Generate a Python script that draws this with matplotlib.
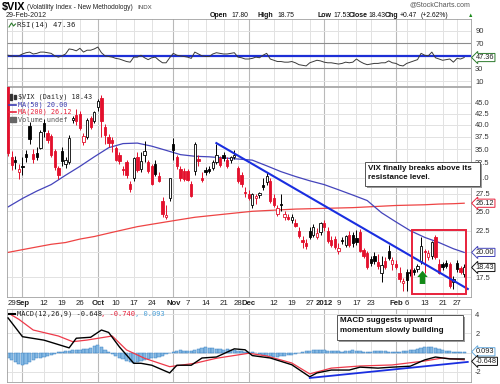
import numpy as np
import pandas as pd
import matplotlib
matplotlib.use("Agg")
import matplotlib.pyplot as plt
from matplotlib.patches import Rectangle
from matplotlib.lines import Line2D

SANS = ['Liberation Sans', 'DejaVu Sans']
MONO = ['DejaVu Sans Mono', 'Liberation Mono', 'DejaVu Sans']
plt.rcParams['font.family'] = SANS

# ---------------- data ----------------
holidays = ["2011-09-05", "2011-11-24", "2011-12-26", "2012-01-02", "2012-01-16", "2012-02-20"]
dates = [d for d in pd.bdate_range("2011-08-26", "2012-02-29") if d.strftime("%Y-%m-%d") not in holidays]

opens = [49.5, 33.6, 33.0, 30.9, 32.0, 34.2, 39.8, 34.2, 34.3, 35.3,
         40.3, 38.3, 37.6, 34.6, 31.7, 34.7, 32.3, 32.6, 41.0, 42.1,
         42.5, 36.4, 37.4, 41.5, 40.7, 44.0, 46.2, 39.6, 37.5, 36.8,
         35.3, 34.0, 31.5, 32.6, 29.0, 29.9, 33.5, 31.5, 34.0, 32.6,
         32.0, 32.4, 30.3, 26.5, 24.3, 26.8, 36.0, 33.5, 31.5, 31.1,
         31.1, 29.0, 31.1, 33.2, 30.0, 31.3, 31.4, 31.7, 32.6, 33.3,
         34.0, 33.0, 33.0, 33.5, 31.7, 30.5, 27.8, 27.4, 25.8, 26.8,
         27.3, 28.8, 29.3, 29.5, 26.9, 24.7, 26.0, 24.2, 24.3, 23.8,
         23.5, 22.5, 21.4, 21.0, 22.5, 22.0, 21.8, 22.3, 23.4, 22.5,
         21.4, 21.5, 20.1, 21.35, 20.8, 22.0, 22.0, 21.6, 22.4, 20.3,
         19.9, 19.3, 19.6, 19.0, 17.9, 19.1, 20.1, 18.8, 18.8, 17.9,
         16.9, 18.0, 18.0, 18.2, 18.3, 19.1, 20.1, 19.5, 19.6, 21.8,
         18.8, 18.8, 18.9, 18.8, 17.0, 18.9, 18.4, 17.80]
highs = [50.0, 34.7, 33.8, 32.3, 33.5, 34.8, 40.5, 35.0, 35.5, 38.8,
         41.2, 38.8, 38.0, 35.0, 32.0, 35.4, 33.6, 37.8, 42.0, 43.5,
         43.0, 38.2, 41.5, 42.0, 43.2, 46.0, 47.0, 40.2, 38.0, 37.5,
         35.6, 34.5, 32.0, 33.0, 29.5, 33.6, 34.5, 34.5, 36.7, 33.0,
         32.3, 33.0, 31.0, 27.0, 25.8, 30.0, 37.3, 34.0, 32.0, 31.6,
         31.5, 29.5, 36.5, 34.0, 31.0, 31.8, 32.0, 33.0, 36.0, 33.8,
         34.5, 33.5, 33.8, 34.8, 32.0, 31.0, 28.5, 28.0, 27.6, 27.5,
         27.8, 30.0, 31.0, 30.0, 27.5, 25.8, 27.5, 25.0, 24.6, 24.6,
         24.0, 23.0, 21.9, 21.5, 23.0, 23.3, 22.8, 23.6, 23.8, 23.0,
         21.9, 21.9, 21.0, 21.8, 22.0, 22.5, 22.4, 22.6, 22.7, 20.5,
         20.2, 19.6, 20.0, 19.8, 19.6, 19.5, 20.8, 19.5, 19.2, 18.5,
         17.4, 18.3, 18.3, 18.4, 18.8, 21.8, 20.4, 20.3, 21.3, 22.0,
         19.3, 19.0, 19.2, 19.0, 17.6, 19.2, 18.6, 18.75]
lows = [33.8, 31.2, 31.5, 29.8, 30.5, 32.6, 36.0, 32.5, 33.0, 35.0,
        37.5, 36.2, 33.5, 31.2, 29.8, 32.0, 31.7, 32.3, 40.4, 40.0,
        38.8, 35.8, 37.0, 39.0, 40.3, 43.0, 37.5, 36.0, 35.5, 34.5,
        32.8, 32.4, 30.5, 30.0, 27.8, 29.5, 31.0, 31.0, 32.6, 30.8,
        28.8, 30.3, 29.3, 24.3, 24.0, 26.5, 33.0, 31.5, 29.5, 29.5,
        29.5, 27.0, 30.5, 32.0, 29.3, 30.5, 30.8, 31.3, 32.3, 31.8,
        32.8, 31.6, 32.5, 33.2, 29.2, 28.5, 27.0, 26.6, 25.5, 26.0,
        26.8, 28.0, 28.8, 26.2, 25.6, 24.4, 25.0, 23.8, 23.8, 23.4,
        22.9, 21.6, 20.5, 20.4, 21.5, 21.8, 21.5, 22.0, 22.5, 21.0,
        20.6, 20.4, 19.8, 20.9, 20.6, 20.6, 20.6, 20.8, 20.0, 19.4,
        18.3, 18.6, 18.8, 18.3, 17.0, 18.3, 19.2, 18.2, 18.3, 17.0,
        16.2, 16.2, 17.6, 17.7, 18.0, 18.8, 17.9, 19.2, 19.3, 19.3,
        17.8, 18.2, 18.4, 16.5, 16.4, 18.0, 17.8, 17.53]
closes = [34.3, 32.2, 32.6, 31.4, 31.8, 33.5, 37.0, 33.2, 33.6, 38.4,
          38.6, 36.8, 34.0, 31.8, 30.5, 32.8, 33.0, 37.2, 41.4, 40.8,
          39.3, 37.6, 41.0, 39.6, 42.9, 45.4, 40.8, 37.8, 36.3, 36.2,
          33.0, 32.9, 31.2, 30.4, 28.2, 33.4, 31.3, 32.9, 34.6, 31.1,
          29.0, 30.6, 29.5, 24.6, 24.5, 29.9, 34.8, 32.0, 29.9, 29.8,
          29.7, 27.2, 36.0, 32.9, 29.7, 31.0, 31.1, 32.6, 34.0, 32.1,
          33.3, 32.0, 33.5, 34.0, 29.5, 29.0, 27.6, 26.9, 27.4, 27.2,
          27.6, 28.6, 30.3, 26.4, 25.8, 25.5, 25.9, 24.6, 24.0, 24.3,
          23.1, 21.9, 21.2, 20.7, 21.8, 23.0, 22.2, 23.4, 22.9, 21.3,
          20.8, 20.6, 20.5, 21.3, 21.9, 20.8, 21.0, 21.2, 20.2, 19.6,
          18.5, 18.9, 19.1, 18.6, 18.7, 18.5, 19.4, 19.2, 18.5, 17.3,
          17.1, 17.2, 17.9, 17.95, 18.6, 20.7, 20.0, 19.9, 21.2, 19.5,
          17.9, 18.5, 18.6, 16.7, 17.3, 18.3, 17.96, 18.43]

ma_days = [0, 4, 8, 12, 16, 20, 24, 28, 32, 36, 40, 44, 48, 52, 56, 60, 64, 68, 72,
           76, 80, 84, 88, 92, 96, 100, 104, 108, 112, 116, 120, 124, 127]
ma50 = [25.6, 26.8, 27.9, 28.9, 30.4, 31.9, 33.6, 35.3, 36.1, 36.2, 35.6, 34.8, 34.0,
        33.7, 33.6, 33.4, 33.2, 33.0, 32.0, 31.0, 30.2, 29.5, 28.9, 28.1, 27.3, 26.5,
        24.8, 23.6, 22.5, 21.7, 21.1, 20.4, 20.0]
ma200 = [20.0, 20.3, 20.6, 20.9, 21.1, 21.5, 21.8, 22.2, 22.6, 23.0, 23.3, 23.6, 23.9,
         24.2, 24.4, 24.6, 24.8, 25.0, 25.1, 25.2, 25.3, 25.35, 25.4, 25.45, 25.5, 25.6,
         25.7, 25.8, 25.85, 25.9, 26.0, 26.05, 26.12]

rsi = [51, 50, 49, 50, 53, 55, 56, 53, 54, 56, 56, 55, 54, 50, 48, 50, 53, 61, 60, 58,
       62, 56, 59, 59, 61, 64, 55, 50, 49, 48, 46, 45, 43, 41, 40, 48, 48, 51, 47, 44,
       47, 48, 43, 39, 39, 47, 54, 51, 50, 49, 48, 46, 56, 53, 50, 49, 49, 53, 55, 54,
       53, 53, 54, 55, 48, 47, 45, 45, 46, 48, 47, 51, 54, 45, 43, 41, 41, 40, 40, 41,
       39, 36, 35, 34, 39, 41, 43, 42, 40, 39, 39, 38, 37, 38, 40, 39, 40, 45, 41, 38,
       36, 37, 38, 38, 39, 39, 42, 39, 38, 35, 34, 38, 40, 42, 44, 54, 51, 50, 56, 47,
       45, 43, 44, 45, 40, 46, 45, 47.36]

macd_days = [0, 4, 10, 17, 19, 23, 26, 28, 31, 35, 37, 40, 45, 47, 51, 54, 58, 63, 66,
             68, 73, 79, 84, 86, 90, 95, 98, 103, 107, 112, 116, 119, 123, 127]
macd = [3.6, 1.66, 1.3, 0.5, 1.5, 1.6, 2.35, 2.1, 0.6, -1.1, -1.1, -1.3, -2.1, -1.3,
        -1.3, -0.55, -0.45, 0.4, 0.3, -0.3, -0.55, -1.25, -2.5, -2.1, -1.8, -1.8, -1.5,
        -1.6, -1.5, -1.4, -0.75, -0.45, -0.65, -0.648]
signal_days = [1, 3, 7, 14, 18, 22, 29, 33, 38, 45, 52, 58, 67, 72, 79, 84, 90, 98,
               107, 116, 121, 127]
signal = [3.9, 3.46, 2.35, 1.73, 1.14, 1.31, 1.73, 0.28, -0.58, -1.45, -1.1, -0.58,
          -0.06, -0.34, -1.07, -2.2, -1.6, -1.38, -1.27, -0.86, -0.55, -0.74]
hist = [-0.5, -0.8, -1.0, -1.2, -1.3, -1.2, -1.0, -0.8, -0.6, -0.5, -0.4, -0.3, -0.2, -0.1,
        0.05, 0.1, 0.15, 0.2, 0.25, 0.3, 0.3, 0.35, 0.4, 0.5, 0.7, 0.8, 0.6, 0.3, 0.1, -0.1,
        -0.3, -0.5, -0.7, -0.9, -1.0, -1.05, -1.0, -0.9, -0.8, -0.7, -0.6, -0.5, -0.4, -0.3,
        -0.15, 0.0, 0.1, 0.2, 0.25, 0.2, 0.15, 0.2, 0.3, 0.4, 0.5, 0.55, 0.5, 0.45, 0.4,
        0.35, 0.3, 0.35, 0.3, 0.25, 0.2, 0.15, 0.1, 0.1, 0.05, 0.0, -0.1, -0.2, -0.3, -0.35,
        -0.4, -0.4, -0.35, -0.3, -0.25, -0.2, -0.1, 0.0, 0.1, 0.15, 0.2, 0.25, 0.3, 0.3,
        0.25, 0.2, 0.2, 0.2, 0.15, 0.1, 0.15, 0.2, 0.25, 0.2, 0.15, 0.1, 0.05, 0.1, 0.15,
        0.2, 0.2, 0.15, 0.1, 0.1, 0.05, 0.1, 0.15, 0.2, 0.25, 0.3, 0.4, 0.5, 0.55, 0.6, 0.55,
        0.45, 0.35, 0.25, 0.2, 0.15, 0.1, 0.1, 0.1, 0.093]

# trend lines (date index, value)
price_trend = [(58, 36.2), (128, 16.4)]
macd_trend = [(84, -2.62), (128, -0.96)]
box_days = (112.6, 127.6)
box_prices = (15.96, 22.6)
arrow_day = 115.4

label_days = [1, 4, 10, 15, 20, 25, 30, 35, 40, 46, 50, 55, 60, 64, 67, 74, 79, 84, 88,
              92, 97, 101, 108, 111, 116, 121, 125]
label_text = ["29", "Sep", "12", "19", "26", "Oct", "10", "17", "24", "Nov", "7", "14",
              "21", "28", "Dec", "12", "19", "27", "2012", "9", "17", "23", "Feb", "6",
              "13", "21", "27"]
month_labels = {"Sep", "Oct", "Nov", "Dec", "2012", "Feb"}

# ---------------- figure ----------------
W, H = 500, 384
fig = plt.figure(figsize=(5.0, 3.84), dpi=100)
fig.patch.set_facecolor('white')

def fx(px):
    return px / W

def fy(py):
    return 1 - py / H

L, R = 7, 471
ax_rsi = fig.add_axes([fx(L), fy(86), fx(R) - fx(L), fy(19) - fy(86)])
ax = fig.add_axes([fx(L), fy(297), fx(R) - fx(L), fy(87) - fy(297)])
ax_m = fig.add_axes([fx(L), fy(382), fx(R) - fx(L), fy(309) - fy(382)])

n = len(closes)
x = np.arange(n)
XL = (-0.3, 128.9)

GRID = '#e2e2e2'
GRIDM = '#b9b9b9'
RED = '#e3102c'
TICKFS = 5.4

def vgrid(a):
    for d, t in zip(label_days, label_text):
        if t in month_labels:
            a.axvline(d, color=GRIDM, lw=0.8, zorder=0)
        else:
            a.axvline(d, color=GRID, lw=0.7, zorder=0)

for a in (ax_rsi, ax, ax_m):
    a.set_xlim(*XL)
    for s in a.spines.values():
        s.set_color('#a0a0a0')
        s.set_linewidth(0.6)
    a.yaxis.tick_right()
    a.tick_params(axis='y', length=0, labelsize=TICKFS, pad=3, colors='#333333')
    a.tick_params(axis='x', length=0)
    vgrid(a)

# ---- RSI panel ----
ax_rsi.set_ylim(2.1, 108.6)
for lv in (90, 10):
    ax_rsi.axhline(lv, color=GRID, lw=0.7, zorder=0)
for lv in (70, 30):
    ax_rsi.axhline(lv, color='#8c8c8c', lw=0.8, zorder=1)
ax_rsi.axhline(50, color='#1d2fd6', lw=1.6, zorder=2)
ax_rsi.plot(x, rsi, color='#3a3a3a', lw=0.7, zorder=3)
ax_rsi.set_yticks([90, 70, 30, 10])
ax_rsi.set_yticklabels(['90', '70', '30', '10'])
ax_rsi.set_xticks([])

# ---- main price panel ----
ax.set_yscale('log')
ax.set_ylim(15.70, 49.08)
yt = [17.5, 20.0, 22.5, 25.0, 27.5, 30.0, 32.5, 35.0, 37.5, 40.0, 42.5, 45.0]
ax.set_yticks(yt)
ax.set_yticklabels(['' if v == 20.0 else '%.1f' % v for v in yt])
ax.yaxis.set_minor_locator(matplotlib.ticker.NullLocator())
for v in yt:
    ax.axhline(v, color=GRID, lw=0.7, zorder=0)

ax.plot(ma_days, ma200, color='#ee4444', lw=0.9, zorder=2)
ax.plot(ma_days, ma50, color='#4444bb', lw=0.9, zorder=2)

for i in range(n):
    o, h, l, c = opens[i], highs[i], lows[i], closes[i]
    prev = closes[i - 1] if i > 0 else c + 1
    col = RED if c < prev else 'black'
    filled = c < o
    ax.vlines(i, l, h, color=col, lw=0.7, zorder=3)
    lo, hi = min(o, c), max(o, c)
    if hi - lo < 0.06:
        hi = lo + 0.06
    ax.add_patch(Rectangle((i - 0.32, lo), 0.64, hi - lo,
                           facecolor=col if filled else 'white', edgecolor=col,
                           lw=0.6, zorder=4))

(t0, v0), (t1, v1) = price_trend
ax.plot([t0, t1], [v0, v1], color='#1a2ee0', lw=1.5, zorder=5, clip_on=True)
ax.add_patch(Rectangle((box_days[0], box_prices[0]), box_days[1] - box_days[0],
                       box_prices[1] - box_prices[0], fill=False, edgecolor='#e8213b',
                       lw=1.4, zorder=6, clip_on=False))
ax.annotate('', xy=(arrow_day, 18.1), xytext=(arrow_day, 16.85),
            arrowprops=dict(arrowstyle='simple,head_width=0.75,head_length=0.45,tail_width=0.4',
                            color='#138a17', lw=0, shrinkA=0, shrinkB=0), zorder=7)

ax.set_xticks(label_days)
ax.set_xticklabels(label_text)
ax.tick_params(axis='x', labelsize=5.6, pad=2.5, colors='#222222')
for tl, t in zip(ax.get_xticklabels(), label_text):
    if t in month_labels:
        tl.set_fontweight('bold')

# ---- MACD panel ----
ax_m.set_ylim(-3.04, 4.53)
for lv in (4, 2, 0, -2):
    ax_m.axhline(lv, color=GRID, lw=0.7, zorder=0)
ax_m.bar(x, hist, width=0.9, color='#86b9e3', edgecolor='#3a82c4', lw=0.35, zorder=2)
ax_m.plot(signal_days, signal, color='#ee3a4a', lw=0.9, zorder=3)
ax_m.plot(macd_days, macd, color='black', lw=1.0, zorder=4)
(m0, w0), (m1, w1) = macd_trend
ax_m.plot([m0, m1], [w0, w1], color='#1a2ee0', lw=1.3, zorder=5)
ax_m.set_yticks([4, 2, -2])
ax_m.set_yticklabels(['4', '2', '-2'])
ax_m.set_xticks([])

# ---- value tags on right ----
def tag(a, y, text, ec):
    a.annotate(text, xy=(1.0, y), xycoords=('axes fraction', 'data'), xytext=(3.5, 0),
               textcoords='offset points', fontsize=5.3, va='center', ha='left',
               color='#222222',
               bbox=dict(boxstyle='larrow,pad=0.08', fc='white', ec=ec, lw=0.7),
               annotation_clip=False, zorder=10)

tag(ax_rsi, rsi[-1], '%.2f' % rsi[-1], '#2d7a2d')
tag(ax, ma200[-1], '%.2f' % ma200[-1], '#e8213b')
tag(ax, ma50[-1], '%.2f' % ma50[-1], '#4444bb')
tag(ax, closes[-1], '%.2f' % closes[-1], '#111111')
tag(ax_m, hist[-1] + 0.0, '%.3f' % hist[-1], '#66aadd')
tag(ax_m, macd[-1] - 0.25, '%.3f' % macd[-1], '#111111')

# ---- header text ----
fig.text(fx(2), fy(7), '$VIX', fontsize=7.8, fontweight='bold', va='center', ha='left')
fig.text(fx(27), fy(7.5), '(Volatility Index - New Methodology)', fontsize=4.8,
         va='center', ha='left', color='#222222')
fig.text(fx(137), fy(7.5), 'INDX', fontsize=4.4, va='center', ha='left', color='#444444')
fig.text(fx(6), fy(15.5), '29-Feb-2012', fontsize=5.1, va='center', ha='left', color='#222222')
fig.text(fx(470), fy(4.5), '@StockCharts.com', fontsize=5.0, va='center', ha='right', color='#555555')

hdr = [(210, 'Open', True), (231, '17.80', False), (258, 'High', True), (277, '18.75', False),
       (318, 'Low', True), (333, '17.53', False), (349, 'Close', True), (368, '18.43', False),
       (385, 'Chg', True), (400, '+0.47', False), (421, '(+2.62%)', False)]
for px, t, b in hdr:
    fig.text(fx(px), fy(15.5), t, fontsize=5.0 if b else 4.9,
             fontweight='bold' if b else 'normal', va='center', ha='left', color='#111111')
fig.text(fx(468), fy(15.5), '\u25b2', fontsize=4, va='center', ha='left', color='#1a8a1a')

# ---- legends ----
fig.text(fx(17), fy(25), 'RSI(14) 47.36', fontsize=5.3, va='center', ha='left',
         color='#222222', family=MONO)
fig.add_artist(Line2D([fx(9), fx(11.5), fx(13.5), fx(15.5)], [fy(27), fy(23), fy(26), fy(24)],
                      color='#2d7a2d', lw=0.8))

LFS = 4.9
fig.text(fx(18), fy(97), '$VIX (Daily) 18.43', fontsize=LFS, va='center', ha='left',
         color='#222222', family=MONO)
fig.add_artist(Rectangle((fx(10), fy(100)), fx(2), fy(94) - fy(100), color='#333333'))
fig.add_artist(Rectangle((fx(13.5), fy(99)), fx(2), fy(95) - fy(99), color='#333333'))
fig.text(fx(18), fy(104.5), 'MA(50) 20.00', fontsize=LFS, va='center', ha='left',
         color='#3b3bb0', family=MONO)
fig.add_artist(Line2D([fx(9), fx(16)], [fy(104.5), fy(104.5)], color='#3b3bb0', lw=1.2))
fig.text(fx(18), fy(112), 'MA(200) 26.12', fontsize=LFS, va='center', ha='left',
         color='#e8213b', family=MONO)
fig.add_artist(Line2D([fx(9), fx(16)], [fy(112), fy(112)], color='#e8213b', lw=1.2))
fig.text(fx(18), fy(119.5), 'Volume undef', fontsize=LFS, va='center', ha='left',
         color='#555555', family=MONO)
fig.add_artist(Rectangle((fx(10), fy(122)), fx(6), fy(117) - fy(122), color='#666666'))

MFS = 5.0
fig.text(fx(17), fy(314), 'MACD(12,26,9) -0.648', fontsize=MFS, va='center', ha='left',
         color='#222222', family=MONO)
fig.text(fx(101), fy(314), ', -0.740', fontsize=MFS, va='center', ha='left',
         color='#e8213b', family=MONO)
fig.text(fx(135), fy(314), ', 0.093', fontsize=MFS, va='center', ha='left',
         color='#4aa0d8', family=MONO)
fig.add_artist(Line2D([fx(8.5), fx(15)], [fy(314), fy(314)], color='black', lw=1.5))

# ---- annotation boxes ----
def note(x0, y0, x1, y1, text):
    fig.add_artist(Rectangle((fx(x0 + 2), fy(y1 + 2)), fx(x1 - x0), fy(y0) - fy(y1),
                             facecolor='#9a9a9a', edgecolor='none', zorder=19))
    fig.add_artist(Rectangle((fx(x0), fy(y1)), fx(x1 - x0), fy(y0) - fy(y1),
                             facecolor='white', edgecolor='#555555', lw=0.7, zorder=20))
    fig.text(fx(x0 + 3), fy(y0 + 2.5), text, fontsize=5.8, fontweight='bold', va='top',
             ha='left', linespacing=1.45, color='#111111', zorder=21)

note(365, 162, 480, 186, 'VIX finally breaks above its\nresistance level.')
note(337, 315, 463, 340, 'MACD suggests upward\nmomentum slowly building')

fig.savefig('out.png', dpi=100, facecolor='white')
